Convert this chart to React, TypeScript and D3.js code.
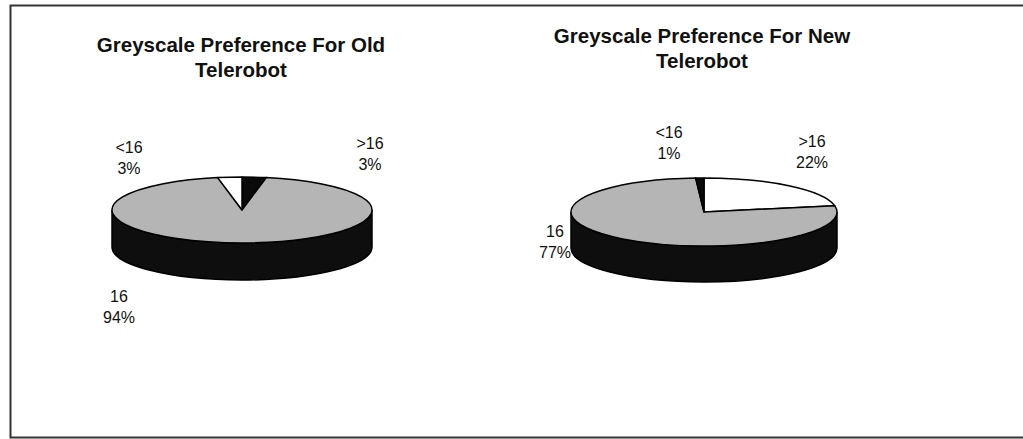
import React from "react";
import * as d3 from "d3";

// Greyscale preference shares (percent) per telerobot
const categories = [">16", "16", "<16"];
const oldValues = [3, 94, 3];
const newValues = [22, 77, 1];
const oldColors = ["#0a0a0a", "#b5b5b5", "#ffffff"];
const newColors = ["#ffffff", "#b5b5b5", "#0a0a0a"];
const titles = [
  ["Greyscale Preference For Old", "Telerobot"],
  ["Greyscale Preference For New", "Telerobot"],
];

const W = 1023;
const H = 439;
const SIDE = "#0e0e0e";
const FONT = "'Liberation Sans', Arial, Helvetica, sans-serif";

type PieLayout = {
  cx: number;
  cy: number;
  rx: number;
  ry: number;
  depth: number;
  titleX: number;
  titleY: number;
  labels: { x: number; y: number }[]; // label anchors, same order as categories
};

const layouts: PieLayout[] = [
  {
    cx: 242, cy: 210, rx: 130, ry: 33, depth: 37,
    titleX: 241, titleY: 52,
    labels: [
      { x: 370, y: 149 },
      { x: 119, y: 302 },
      { x: 129, y: 153 },
    ],
  },
  {
    cx: 704, cy: 212, rx: 133, ry: 34, depth: 36,
    titleX: 702, titleY: 43,
    labels: [
      { x: 812, y: 147 },
      { x: 555, y: 237 },
      { x: 669, y: 138 },
    ],
  },
];

function Pie3D({ values, colors, layout, title }: {
  values: number[];
  colors: string[];
  layout: PieLayout;
  title: string[];
}) {
  const { cx, cy, rx, ry, depth } = layout;
  const arcs = d3.pie<number>().sort(null).startAngle(0).endAngle(2 * Math.PI)(values);
  const pt = (a: number, dy = 0): [number, number] => [cx + rx * Math.sin(a), cy - ry * Math.cos(a) + dy];

  const topPath = (a0: number, a1: number) => {
    const p = d3.path();
    p.moveTo(cx, cy);
    const [x0, y0] = pt(a0);
    const [x1, y1] = pt(a1);
    p.lineTo(x0, y0);
    const large = a1 - a0 > Math.PI ? 1 : 0;
    return p.toString() + ` A${rx},${ry} 0 ${large} 1 ${x1},${y1} Z`;
  };

  // front wall: only the part of each slice between 90° and 270° faces the viewer
  const sidePath = (a0: number, a1: number) => {
    const s = Math.max(a0, Math.PI / 2);
    const e = Math.min(a1, (3 * Math.PI) / 2);
    if (e <= s) return null;
    const [x0, y0] = pt(s);
    const [x1, y1] = pt(e);
    const large = e - s > Math.PI ? 1 : 0;
    return `M${x0},${y0} A${rx},${ry} 0 ${large} 1 ${x1},${y1} L${x1},${y1 + depth} A${rx},${ry} 0 ${large} 0 ${x0},${y0 + depth} Z`;
  };

  return (
    <g>
      <text
        x={layout.titleX}
        y={layout.titleY}
        textAnchor="middle"
        fontFamily={FONT}
        fontWeight="bold"
        fontSize={20.5}
        fill="#111"
      >
        <tspan x={layout.titleX}>{title[0]}</tspan>
        <tspan x={layout.titleX} dy={25}>{title[1]}</tspan>
      </text>
      {arcs.map((a, i) => {
        const d = sidePath(a.startAngle, a.endAngle);
        return d ? <path key={"s" + i} d={d} fill={SIDE} stroke="#000" strokeWidth={1.5} /> : null;
      })}
      {arcs.map((a, i) => (
        <path
          key={"t" + i}
          d={topPath(a.startAngle, a.endAngle)}
          fill={colors[i]}
          stroke="#000"
          strokeWidth={1.5}
          strokeLinejoin="round"
        />
      ))}
      {arcs.map((a, i) => (
        <text
          key={"l" + i}
          x={layout.labels[i].x}
          y={layout.labels[i].y}
          textAnchor="middle"
          fontFamily={FONT}
          fontSize={16}
          fill="#111"
        >
          <tspan x={layout.labels[i].x}>{categories[i]}</tspan>
          <tspan x={layout.labels[i].x} dy={20.5}>{`${a.data}%`}</tspan>
        </text>
      ))}
    </g>
  );
}

export default function App() {
  return (
    <svg
      width={W}
      height={H}
      viewBox={`0 0 ${W} ${H}`}
      style={{ position: "absolute", left: 0, top: 0, background: "#fff" }}
    >
      <rect x={0} y={0} width={W} height={H} fill="#fff" />
      <rect x={10.5} y={5.5} width={W + 20} height={432} fill="none" stroke="#333" strokeWidth={2} />
      <Pie3D values={oldValues} colors={oldColors} layout={layouts[0]} title={titles[0]} />
      <Pie3D values={newValues} colors={newColors} layout={layouts[1]} title={titles[1]} />
    </svg>
  );
}
